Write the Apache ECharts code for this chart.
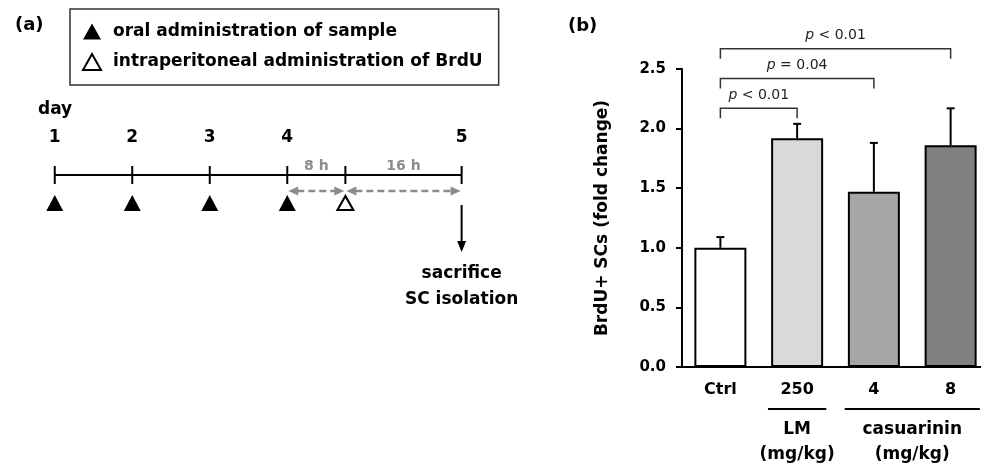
<!DOCTYPE html>
<html>
<head>
<meta charset="utf-8">
<script src="https://cdn.jsdelivr.net/npm/echarts@6/dist/echarts.min.js"></script>
<style>
  html, body { margin: 0; padding: 0; background: #fff; }
  #chart { width: 981px; height: 465px; }
</style>
</head>
<body>
<div id="chart"></div>
<script>
// (a) 投与スケジュール
const dayLabels = ['1', '2', '3', '4', '5'];
const dayPos = [1, 2, 3, 4, 6.25];   // day 4 -> 5 is drawn wider (8 h + 16 h)
const oralPos = [1, 2, 3, 4];
const brduPos = [4.75];
const intervalFrom = [4, 4.75];
const intervalTo = [4.75, 6.25];
const intervalLabels = ['8 h', '16 h'];
const endLabels = ['sacrifice', 'SC isolation'];

// (b) BrdU+ SCs
const groups = ['Ctrl', '250', '4', '8'];
const foldChange = [1.0, 1.92, 1.47, 1.86];
const errUp = [0.09, 0.12, 0.41, 0.31];
const yTicks = [0, 0.5, 1.0, 1.5, 2.0, 2.5];
const compStart = [0, 0, 0];
const compEnd = [1, 2, 3];
const compLevel = [2.17, 2.42, 2.67];
const compLabels = ['< 0.01', '= 0.04', '< 0.01'];
const doseNames = ['LM\n(mg/kg)', 'casuarinin\n(mg/kg)'];
const doseStart = [1, 2];
const doseEnd = [1, 3];

const FONT = 'DejaVu Sans';
const barColors = ['#ffffff', '#d9d9d9', '#a6a6a6', '#808080'];
const grey = '#8c8c8c';

const chart = echarts.init(document.getElementById('chart'));

// 時間軸の線
const renderTimeline = (params, api) => {
  const a = api.coord([api.value(0), 0]);
  const b = api.coord([api.value(1), 0]);
  return {
    type: 'line',
    shape: { x1: a[0], y1: a[1], x2: b[0], y2: b[1] },
    style: { stroke: '#000', lineWidth: 2 }
  };
};

const renderTick = (params, api) => {
  const p = api.coord([api.value(0), 0]);
  return {
    type: 'line',
    shape: { x1: p[0], y1: p[1] - 9, x2: p[0], y2: p[1] + 9 },
    style: { stroke: '#000', lineWidth: 2 }
  };
};

const renderDayLabel = (params, api) => {
  const p = api.coord([api.value(0), 0]);
  return {
    type: 'text',
    x: p[0], y: p[1] - 37,
    style: {
      text: dayLabels[params.dataIndex], fill: '#000',
      fontFamily: FONT, fontWeight: 'bold', fontSize: 17,
      align: 'center', verticalAlign: 'middle'
    }
  };
};

// 両矢印（点線）
const renderInterval = (params, api) => {
  const a = api.coord([api.value(0), 0]);
  const b = api.coord([api.value(1), 0]);
  const y = a[1] + 16;
  const x1 = a[0] + 1, x2 = b[0] - 1;
  return {
    type: 'group',
    children: [
      {
        type: 'line',
        shape: { x1: x1 + 9, y1: y, x2: x2 - 9, y2: y },
        style: { stroke: grey, lineWidth: 2.5, lineDash: [7, 4] }
      },
      {
        type: 'polygon',
        shape: { points: [[x1, y], [x1 + 10, y - 4.5], [x1 + 10, y + 4.5]] },
        style: { fill: grey }
      },
      {
        type: 'polygon',
        shape: { points: [[x2, y], [x2 - 10, y - 4.5], [x2 - 10, y + 4.5]] },
        style: { fill: grey }
      },
      {
        type: 'text',
        x: (a[0] + b[0]) / 2, y: a[1] - 9,
        style: {
          text: intervalLabels[params.dataIndex], fill: grey,
          fontFamily: FONT, fontWeight: 'bold', fontSize: 14,
          align: 'center', verticalAlign: 'middle'
        }
      }
    ]
  };
};

const renderEnd = (params, api) => {
  const p = api.coord([api.value(0), 0]);
  return {
    type: 'group',
    children: [
      {
        type: 'line',
        shape: { x1: p[0], y1: p[1] + 30, x2: p[0], y2: p[1] + 70 },
        style: { stroke: '#000', lineWidth: 2 }
      },
      {
        type: 'polygon',
        shape: { points: [[p[0] - 4.5, p[1] + 66], [p[0] + 4.5, p[1] + 66], [p[0], p[1] + 77]] },
        style: { fill: '#000' }
      },
      {
        type: 'text',
        x: p[0], y: p[1] + 86,
        style: {
          text: endLabels.join('\n'), fill: '#000',
          fontFamily: FONT, fontWeight: 'bold', fontSize: 17, lineHeight: 26,
          align: 'center', verticalAlign: 'top'
        }
      }
    ]
  };
};

// エラーバー（上側のみ）
const renderError = (params, api) => {
  const lo = api.coord([api.value(0), api.value(1)]);
  const hi = api.coord([api.value(0), api.value(2)]);
  return {
    type: 'group',
    children: [
      { type: 'line', shape: { x1: lo[0], y1: lo[1], x2: hi[0], y2: hi[1] }, style: { stroke: '#000', lineWidth: 2 } },
      { type: 'line', shape: { x1: hi[0] - 4, y1: hi[1], x2: hi[0] + 4, y2: hi[1] }, style: { stroke: '#000', lineWidth: 2 } }
    ]
  };
};

// 有意差のブラケット
const renderBracket = (params, api) => {
  const a = api.coord([api.value(0), api.value(2)]);
  const b = api.coord([api.value(1), api.value(2)]);
  const i = params.dataIndex;
  return {
    type: 'group',
    children: [
      {
        type: 'polyline',
        shape: { points: [[a[0], a[1] + 10], [a[0], a[1]], [b[0], b[1]], [b[0], b[1] + 10]] },
        style: { fill: null, stroke: '#333', lineWidth: 1.5 }
      },
      {
        type: 'text',
        x: (a[0] + b[0]) / 2, y: a[1] - 13,
        style: {
          text: '{i|p} ' + compLabels[i], fill: '#222',
          fontFamily: FONT, fontSize: 14,
          align: 'center', verticalAlign: 'middle',
          rich: { i: { fontFamily: FONT, fontSize: 14, fontStyle: 'italic', fill: '#222' } }
        }
      }
    ]
  };
};

// 用量グループのラベル
const renderDose = (params, api) => {
  const s = api.coord([api.value(0), 0]);
  const e = api.coord([api.value(1), 0]);
  const half = api.size([1, 0])[0] * 0.38;
  return {
    type: 'group',
    children: [
      {
        type: 'line',
        shape: { x1: s[0] - half, y1: s[1] + 42, x2: e[0] + half, y2: s[1] + 42 },
        style: { stroke: '#000', lineWidth: 2 }
      },
      {
        type: 'text',
        x: (s[0] + e[0]) / 2, y: s[1] + 50,
        style: {
          text: doseNames[params.dataIndex], fill: '#000',
          fontFamily: FONT, fontWeight: 'bold', fontSize: 17, lineHeight: 25,
          align: 'center', verticalAlign: 'top'
        }
      }
    ]
  };
};

const option = {
  animation: false,
  backgroundColor: '#fff',
  textStyle: { fontFamily: FONT },
  legend: {
    orient: 'vertical',
    left: 70, top: 9,
    padding: [14, 16, 14, 12],
    itemGap: 13,
    itemWidth: 18, itemHeight: 16,
    borderColor: '#333', borderWidth: 1.5,
    selectedMode: false,
    textStyle: { fontFamily: FONT, fontWeight: 'bold', fontSize: 17, color: '#000', padding: [0, 0, 0, 7] },
    data: [
      { name: 'oral administration of sample', icon: 'triangle' },
      { name: 'intraperitoneal administration of BrdU', icon: 'triangle' }
    ]
  },
  graphic: [
    { type: 'text', x: 15, y: 25, style: { text: '(a)', fill: '#000', fontFamily: FONT, fontWeight: 'bold', fontSize: 18, verticalAlign: 'middle' } },
    { type: 'text', x: 568, y: 26, style: { text: '(b)', fill: '#000', fontFamily: FONT, fontWeight: 'bold', fontSize: 18, verticalAlign: 'middle' } },
    { type: 'text', x: 38, y: 110, style: { text: 'day', fill: '#000', fontFamily: FONT, fontWeight: 'bold', fontSize: 17, verticalAlign: 'middle' } }
  ],
  grid: [
    { left: 16, top: 165, width: 465, height: 10, outerBoundsMode: 'none' },
    { left: 682, top: 69, width: 307, height: 298, outerBoundsMode: 'none' }
  ],
  xAxis: [
    { gridIndex: 0, type: 'value', min: 0.5, max: 6.5, show: false },
    {
      gridIndex: 1, type: 'category', data: groups,
      axisLine: { lineStyle: { color: '#000', width: 2 } },
      axisTick: { show: false },
      axisLabel: { color: '#000', fontFamily: FONT, fontWeight: 'bold', fontSize: 16, margin: 15 }
    }
  ],
  yAxis: [
    { gridIndex: 0, type: 'value', min: 0, max: 1, show: false },
    {
      gridIndex: 1, type: 'value',
      min: yTicks[0], max: yTicks[yTicks.length - 1], interval: yTicks[1] - yTicks[0],
      name: 'BrdU+ SCs (fold change)',
      nameLocation: 'middle', nameGap: 71,
      nameTextStyle: { color: '#000', fontFamily: FONT, fontWeight: 'bold', fontSize: 17 },
      axisLine: { show: true, lineStyle: { color: '#000', width: 2 } },
      axisTick: { show: true, length: 6, lineStyle: { color: '#000', width: 2 } },
      splitLine: { show: false },
      axisLabel: { color: '#000', fontFamily: FONT, fontWeight: 'bold', fontSize: 15, margin: 16, formatter: v => v.toFixed(1) }
    }
  ],
  series: [
    {
      type: 'custom', xAxisIndex: 0, yAxisIndex: 0, silent: true,
      renderItem: renderTimeline,
      data: [[dayPos[0], dayPos[dayPos.length - 1]]]
    },
    {
      type: 'custom', xAxisIndex: 0, yAxisIndex: 0, silent: true,
      renderItem: renderTick,
      data: dayPos.concat(brduPos).map(x => [x, 0])
    },
    {
      type: 'custom', xAxisIndex: 0, yAxisIndex: 0, silent: true,
      renderItem: renderDayLabel,
      data: dayPos.map(x => [x, 0])
    },
    {
      type: 'custom', xAxisIndex: 0, yAxisIndex: 0, silent: true,
      renderItem: renderInterval,
      data: intervalFrom.map((f, i) => [f, intervalTo[i]])
    },
    {
      type: 'custom', xAxisIndex: 0, yAxisIndex: 0, silent: true,
      renderItem: renderEnd,
      data: [[dayPos[dayPos.length - 1], 0]]
    },
    {
      name: 'oral administration of sample',
      type: 'scatter', xAxisIndex: 0, yAxisIndex: 0,
      symbol: 'triangle', symbolSize: [17, 16], symbolOffset: [0, 28],
      itemStyle: { color: '#000', opacity: 1 },
      data: oralPos.map(x => [x, 0])
    },
    {
      name: 'intraperitoneal administration of BrdU',
      type: 'scatter', xAxisIndex: 0, yAxisIndex: 0,
      symbol: 'triangle', symbolSize: [16, 14], symbolOffset: [0, 28],
      itemStyle: { color: '#fff', borderColor: '#000', borderWidth: 2, opacity: 1 },
      data: brduPos.map(x => [x, 0])
    },
    {
      type: 'bar', xAxisIndex: 1, yAxisIndex: 1,
      barWidth: 52,
      itemStyle: { borderColor: '#000', borderWidth: 2 },
      data: foldChange.map((v, i) => ({ value: v, itemStyle: { color: barColors[i] } }))
    },
    {
      type: 'custom', xAxisIndex: 1, yAxisIndex: 1, silent: true, z: 3,
      renderItem: renderError,
      data: foldChange.map((v, i) => [i, v, v + errUp[i]])
    },
    {
      type: 'custom', xAxisIndex: 1, yAxisIndex: 1, silent: true,
      renderItem: renderBracket,
      data: compStart.map((s, i) => [s, compEnd[i], compLevel[i]])
    },
    {
      type: 'custom', xAxisIndex: 1, yAxisIndex: 1, silent: true,
      renderItem: renderDose,
      data: doseStart.map((s, i) => [s, doseEnd[i]])
    }
  ]
};

chart.setOption(option);
</script>
</body>
</html>
